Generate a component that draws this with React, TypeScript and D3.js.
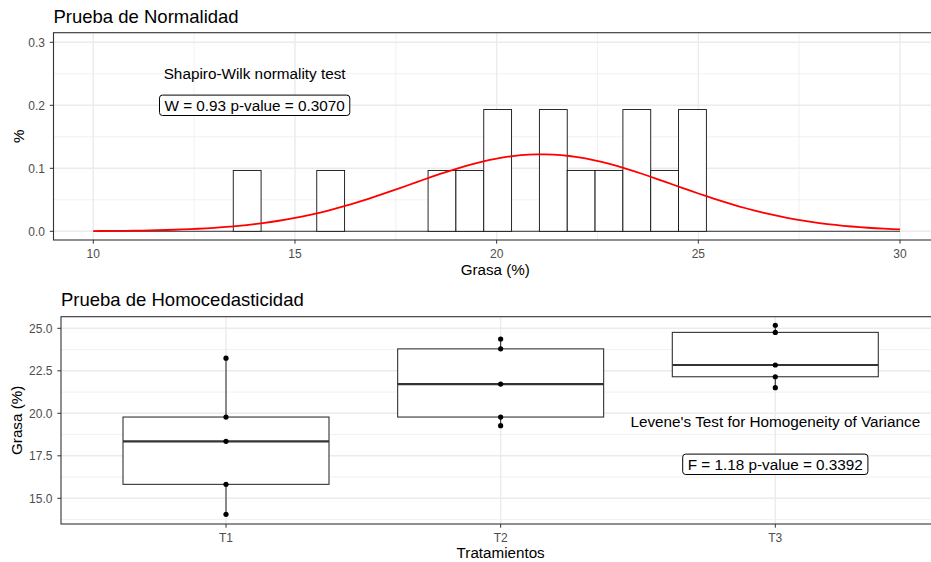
import React, { useRef, useEffect } from "react";
import * as d3 from "d3";

// data
const treatments = ["T1", "T2", "T3"];
const grasaT1 = [14.06, 15.82, 18.35, 19.78, 23.24];
const grasaT2 = [19.27, 19.78, 21.72, 23.79, 24.37];
const grasaT3 = [21.51, 22.15, 22.84, 24.76, 25.18];

const histXTicks = [10, 15, 20, 25, 30];
const histYTicks = [0, 0.1, 0.2, 0.3];
const boxYTicks = [15, 17.5, 20, 22.5, 25];

const binStart = 13.47;
const binWidth = 0.69;
const curveFrom = 10;
const curveTo = 30;

const shapiroTitle = "Shapiro-Wilk normality test";
const shapiroLabel = "W = 0.93 p-value = 0.3070";
const leveneTitle = "Levene's Test for Homogeneity of Variance";
const leveneLabel = "F = 1.18 p-value = 0.3392";

const W = 931;
const H = 562;
const FONT = "'Liberation Sans', Arial, Helvetica, sans-serif";
const GRID = "#EBEBEB";
const DARK = "#333333";
const TICKTXT = "#4D4D4D";

function minorBreaks(ticks: number[]) {
  const step = ticks[1] - ticks[0];
  const ext = [ticks[0] - step, ...ticks, ticks[ticks.length - 1] + step];
  return d3.pairs(ext).map(([a, b]) => (a + b) / 2);
}

function drawLabel(g: any, cx: number, cy: number, text: string, size: number) {
  const t = g.append("text")
    .attr("x", cx).attr("y", cy).attr("dy", "0.36em")
    .attr("text-anchor", "middle")
    .attr("font-size", size).attr("fill", "black")
    .text(text);
  const w = (t.node() as SVGTextElement).getComputedTextLength();
  const padX = 5, h = 20.4;
  g.insert("rect", () => t.node())
    .attr("x", cx - w / 2 - padX).attr("y", cy - h / 2)
    .attr("width", w + 2 * padX).attr("height", h)
    .attr("rx", 3).attr("ry", 3)
    .attr("fill", "white").attr("stroke", "black").attr("stroke-width", 1);
}

function drawPanel(svg: any, p: any, xs: number[], xsMinor: number[], ys: number[], ysMinor: number[]) {
  const g = svg.append("g");
  g.append("rect")
    .attr("x", p.left).attr("y", p.top)
    .attr("width", p.right - p.left).attr("height", p.bottom - p.top)
    .attr("fill", "white");
  xsMinor.filter((v) => v > p.left && v < p.right).forEach((v) => {
    g.append("line").attr("x1", v).attr("x2", v).attr("y1", p.top).attr("y2", p.bottom)
      .attr("stroke", GRID).attr("stroke-width", 0.7);
  });
  ysMinor.filter((v) => v > p.top && v < p.bottom).forEach((v) => {
    g.append("line").attr("y1", v).attr("y2", v).attr("x1", p.left).attr("x2", p.right)
      .attr("stroke", GRID).attr("stroke-width", 0.7);
  });
  xs.forEach((v) => {
    g.append("line").attr("x1", v).attr("x2", v).attr("y1", p.top).attr("y2", p.bottom)
      .attr("stroke", GRID).attr("stroke-width", 1.4);
  });
  ys.forEach((v) => {
    g.append("line").attr("y1", v).attr("y2", v).attr("x1", p.left).attr("x2", p.right)
      .attr("stroke", GRID).attr("stroke-width", 1.4);
  });
  return g;
}

function drawBorderAndAxes(svg: any, p: any, xs: number[], xl: string[], ys: number[], yl: string[]) {
  const g = svg.append("g");
  g.append("rect")
    .attr("x", p.left).attr("y", p.top)
    .attr("width", p.right - p.left).attr("height", p.bottom - p.top)
    .attr("fill", "none").attr("stroke", DARK).attr("stroke-width", 1.1);
  xs.forEach((v, i) => {
    g.append("line").attr("x1", v).attr("x2", v).attr("y1", p.bottom).attr("y2", p.bottom + 3.7)
      .attr("stroke", DARK).attr("stroke-width", 1);
    g.append("text").attr("x", v).attr("y", p.bottom + 17.8)
      .attr("text-anchor", "middle").attr("font-size", 12).attr("fill", TICKTXT).text(xl[i]);
  });
  ys.forEach((v, i) => {
    g.append("line").attr("y1", v).attr("y2", v).attr("x1", p.left - 3.7).attr("x2", p.left)
      .attr("stroke", DARK).attr("stroke-width", 1);
    g.append("text").attr("x", p.left - 8.6).attr("y", v).attr("dy", "0.36em")
      .attr("text-anchor", "end").attr("font-size", 12).attr("fill", TICKTXT).text(yl[i]);
  });
}

export default function App() {
  const ref = useRef<SVGSVGElement>(null);

  useEffect(() => {
    const svg = d3.select(ref.current);
    svg.selectAll("*").remove();
    svg.attr("width", W).attr("height", H).style("font-family", FONT);
    svg.append("rect").attr("width", W).attr("height", H).attr("fill", "white");
    drawHist(svg);
    drawBoxplot(svg);
  }, []);

  const drawHist = (svg: any) => {
    const p = { left: 53.5, top: 32.7, right: 940, bottom: 240 };
    const x = d3.scaleLinear().domain([10, 30]).range([93.3, 900]);
    const y = d3.scaleLinear().domain([0, 0.3]).range([231.3, 42.3]);

    const all = [...grasaT1, ...grasaT2, ...grasaT3];
    const n = all.length;
    const mean = d3.mean(all) as number;
    const sd = d3.deviation(all) as number;

    drawPanel(svg, p,
      histXTicks.map(x), minorBreaks(histXTicks).map(x),
      histYTicks.map(y), minorBreaks(histYTicks).map(y));

    // histogram (density)
    const nb = Math.ceil((d3.max(all)! - binStart) / binWidth);
    const thresholds = d3.range(nb + 1).map((i) => binStart + i * binWidth);
    const bins = d3.bin().domain([thresholds[0], thresholds[thresholds.length - 1]]).thresholds(thresholds)(all);
    const g = svg.append("g");
    g.append("line")
      .attr("x1", x(curveFrom)).attr("x2", x(curveTo)).attr("y1", y(0)).attr("y2", y(0))
      .attr("stroke", "#222").attr("stroke-width", 0.9);
    g.selectAll("rect.bar")
      .data(bins.filter((b: any) => b.length > 0))
      .enter()
      .append("rect")
      .attr("x", (b: any) => x(b.x0))
      .attr("y", (b: any) => y(b.length / (n * binWidth)))
      .attr("width", (b: any) => x(b.x1) - x(b.x0))
      .attr("height", (b: any) => y(0) - y(b.length / (n * binWidth)))
      .attr("fill", "white").attr("stroke", "#111").attr("stroke-width", 0.9);

    // normal curve
    const pts = d3.range(101).map((i) => {
      const v = curveFrom + (i * (curveTo - curveFrom)) / 100;
      return [v, Math.exp(-0.5 * ((v - mean) / sd) ** 2) / (sd * Math.sqrt(2 * Math.PI))];
    });
    g.append("path")
      .attr("d", d3.line().x((d: any) => x(d[0])).y((d: any) => y(d[1]))(pts as any))
      .attr("fill", "none").attr("stroke", "red").attr("stroke-width", 1.8);

    g.append("text").attr("x", x(14)).attr("y", y(0.25)).attr("dy", "0.36em")
      .attr("text-anchor", "middle").attr("font-size", 15.3).attr("fill", "black").text(shapiroTitle);
    drawLabel(g, x(14), y(0.2), shapiroLabel, 15.3);

    drawBorderAndAxes(svg, p, histXTicks.map(x), histXTicks.map((d) => d3.format("d")(d)),
      histYTicks.map(y), histYTicks.map((d) => d3.format(".1f")(d)));

    svg.append("text").attr("x", p.left).attr("y", 22.5)
      .attr("font-size", 18.5).attr("fill", "black").text("Prueba de Normalidad");
    svg.append("text").attr("x", (p.left + 931) / 2 + 3).attr("y", 275)
      .attr("text-anchor", "middle").attr("font-size", 15.2).attr("fill", "black").text("Grasa (%)");
    svg.append("text").attr("transform", `translate(24,${(p.top + p.bottom) / 2}) rotate(-90)`)
      .attr("text-anchor", "middle").attr("font-size", 15.2).attr("fill", "black").text("%");
  };

  const drawBoxplot = (svg: any) => {
    const p = { left: 61, top: 316.7, right: 940, bottom: 524 };
    const x = d3.scalePoint().domain(treatments).range([226, 775.3]);
    const y = d3.scaleLinear().domain([15, 25]).range([498.3, 328.3]);
    const step = x.step();
    const groups = [grasaT1, grasaT2, grasaT3];

    drawPanel(svg, p,
      treatments.map((t) => x(t)!), [],
      boxYTicks.map(y), minorBreaks(boxYTicks).map(y));

    const g = svg.append("g");
    groups.forEach((vals, i) => {
      const cx = x(treatments[i])!;
      const s = vals.slice().sort(d3.ascending);
      const q1 = d3.quantile(s, 0.25)!;
      const med = d3.quantile(s, 0.5)!;
      const q3 = d3.quantile(s, 0.75)!;
      const iqr = q3 - q1;
      const lo = d3.min(s.filter((v) => v >= q1 - 1.5 * iqr))!;
      const hi = d3.max(s.filter((v) => v <= q3 + 1.5 * iqr))!;
      const bw = step * 0.75;
      g.append("line").attr("x1", cx).attr("x2", cx).attr("y1", y(q3)).attr("y2", y(hi))
        .attr("stroke", DARK).attr("stroke-width", 1.1);
      g.append("line").attr("x1", cx).attr("x2", cx).attr("y1", y(q1)).attr("y2", y(lo))
        .attr("stroke", DARK).attr("stroke-width", 1.1);
      g.append("rect").attr("x", cx - bw / 2).attr("y", y(q3))
        .attr("width", bw).attr("height", y(q1) - y(q3))
        .attr("fill", "white").attr("stroke", DARK).attr("stroke-width", 1.1);
      g.append("line").attr("x1", cx - bw / 2).attr("x2", cx + bw / 2).attr("y1", y(med)).attr("y2", y(med))
        .attr("stroke", DARK).attr("stroke-width", 2.2);
      g.selectAll(null).data(s).enter().append("circle")
        .attr("cx", cx).attr("cy", (d: number) => y(d)).attr("r", 2.6).attr("fill", "black");
    });

    g.append("text").attr("x", x("T3")!).attr("y", y(19.5)).attr("dy", "0.36em")
      .attr("text-anchor", "middle").attr("font-size", 15.3).attr("fill", "black").text(leveneTitle);
    drawLabel(g, x("T3")!, y(17), leveneLabel, 15.3);

    drawBorderAndAxes(svg, p, treatments.map((t) => x(t)!), treatments,
      boxYTicks.map(y), boxYTicks.map((d) => d3.format(".1f")(d)));

    svg.append("text").attr("x", p.left).attr("y", 305.7)
      .attr("font-size", 18.5).attr("fill", "black").text("Prueba de Homocedasticidad");
    svg.append("text").attr("x", x("T2")!).attr("y", 557.6)
      .attr("text-anchor", "middle").attr("font-size", 15.2).attr("fill", "black").text("Tratamientos");
    svg.append("text").attr("transform", `translate(21.5,${(p.top + p.bottom) / 2}) rotate(-90)`)
      .attr("text-anchor", "middle").attr("font-size", 15.2).attr("fill", "black").text("Grasa (%)");
  };

  return (
    <svg ref={ref} style={{ position: "absolute", left: 0, top: 0, display: "block" }}></svg>
  );
}
